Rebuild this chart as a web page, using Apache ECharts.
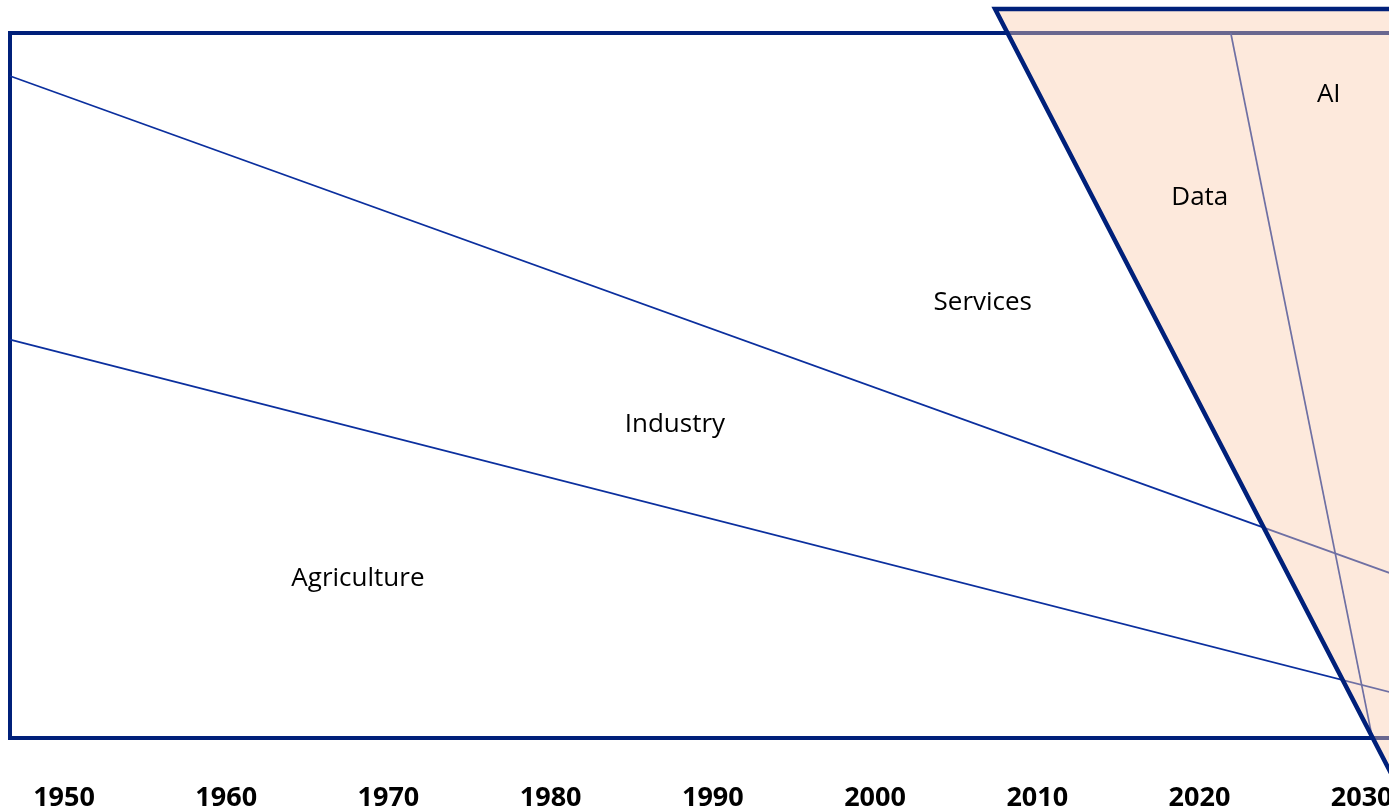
<!DOCTYPE html>
<html>
<head>
<meta charset="utf-8">
<title>Economy eras</title>
<script src="https://cdn.jsdelivr.net/npm/echarts@6/dist/echarts.min.js"></script>
<style>
  html, body { margin: 0; padding: 0; background: #fff; }
  #chart { width: 1389px; height: 809px; }
</style>
</head>
<body>
<div id="chart"></div>
<script>
// year labels along the bottom
const yearTicks = [1950, 1960, 1970, 1980, 1990, 2000, 2010, 2020, 2030];

// boundary lines (share, 0-100) at the two ends of the time span
const lineYears = [1946.67, 2045];
const servicesIndustry = [93.9, 12.4];
const industryAgriculture = [56.5, -1.3];

// forecast funnel (Data / AI era)
const funnelCorners = [[2007.4, 103.4], [2046, 103.4], [2046, -15], [2034.06, -15]];
const dataAiSplit = [[2021.93, 100], [2030.62, 0.4]];

// region names and where they sit
const regionLabels = [
  ['Services', 2006.64, 61.7],
  ['Industry', 1987.66, 44.4],
  ['Agriculture', 1968.12, 22.55],
  ['Data', 2020.02, 76.7],
  ['AI', 2027.97, 91.2]
];

const navy = '#00207a';
const thin = '#0b2f9e';

const chart = echarts.init(document.getElementById('chart'));
chart.setOption({
  animation: false,
  grid: {
    left: 10, top: 33, width: 1595, height: 705,
    outerBoundsMode: 'none', containLabel: false,
    show: true, borderColor: navy, borderWidth: 4, backgroundColor: 'transparent'
  },
  xAxis: {
    type: 'value', min: 1946.67, max: 2045,
    splitLine: { show: false },
    axisLine: { show: false },
    axisTick: { show: false },
    axisLabel: {
      customValues: yearTicks,
      formatter: v => String(v),
      margin: 47,
      color: '#000',
      fontWeight: 'bold',
      fontSize: 27,
      fontFamily: 'Open Sans, sans-serif'
    }
  },
  yAxis: { type: 'value', min: 0, max: 100, show: false },
  series: [
    {
      type: 'line', z: 2, symbol: 'none', silent: true,
      lineStyle: { color: thin, width: 1.7 },
      data: lineYears.map((y, i) => [y, servicesIndustry[i]])
    },
    {
      type: 'line', z: 2, symbol: 'none', silent: true,
      lineStyle: { color: thin, width: 1.7 },
      data: lineYears.map((y, i) => [y, industryAgriculture[i]])
    },
    {
      type: 'line', z: 2, symbol: 'none', silent: true, clip: false,
      lineStyle: { color: thin, width: 1.7 },
      data: dataAiSplit
    },
    {
      type: 'custom', z: 5, silent: true, clip: false,
      data: [0],
      renderItem: function (params, api) {
        return {
          type: 'polygon',
          shape: { points: funnelCorners.map(p => api.coord(p)) },
          style: { fill: 'rgba(250,203,172,0.42)', stroke: navy, lineWidth: 4.5, lineJoin: 'miter' }
        };
      }
    },
    {
      type: 'scatter', z: 10, silent: true, symbolSize: 0,
      itemStyle: { opacity: 1 },
      data: regionLabels.map(r => ({ name: r[0], value: [r[1], r[2]] })),
      label: {
        show: true, position: 'inside', opacity: 1,
        formatter: p => p.name,
        color: '#000', fontSize: 26,
        fontFamily: 'Open Sans, sans-serif'
      }
    }
  ]
});
</script>
</body>
</html>
